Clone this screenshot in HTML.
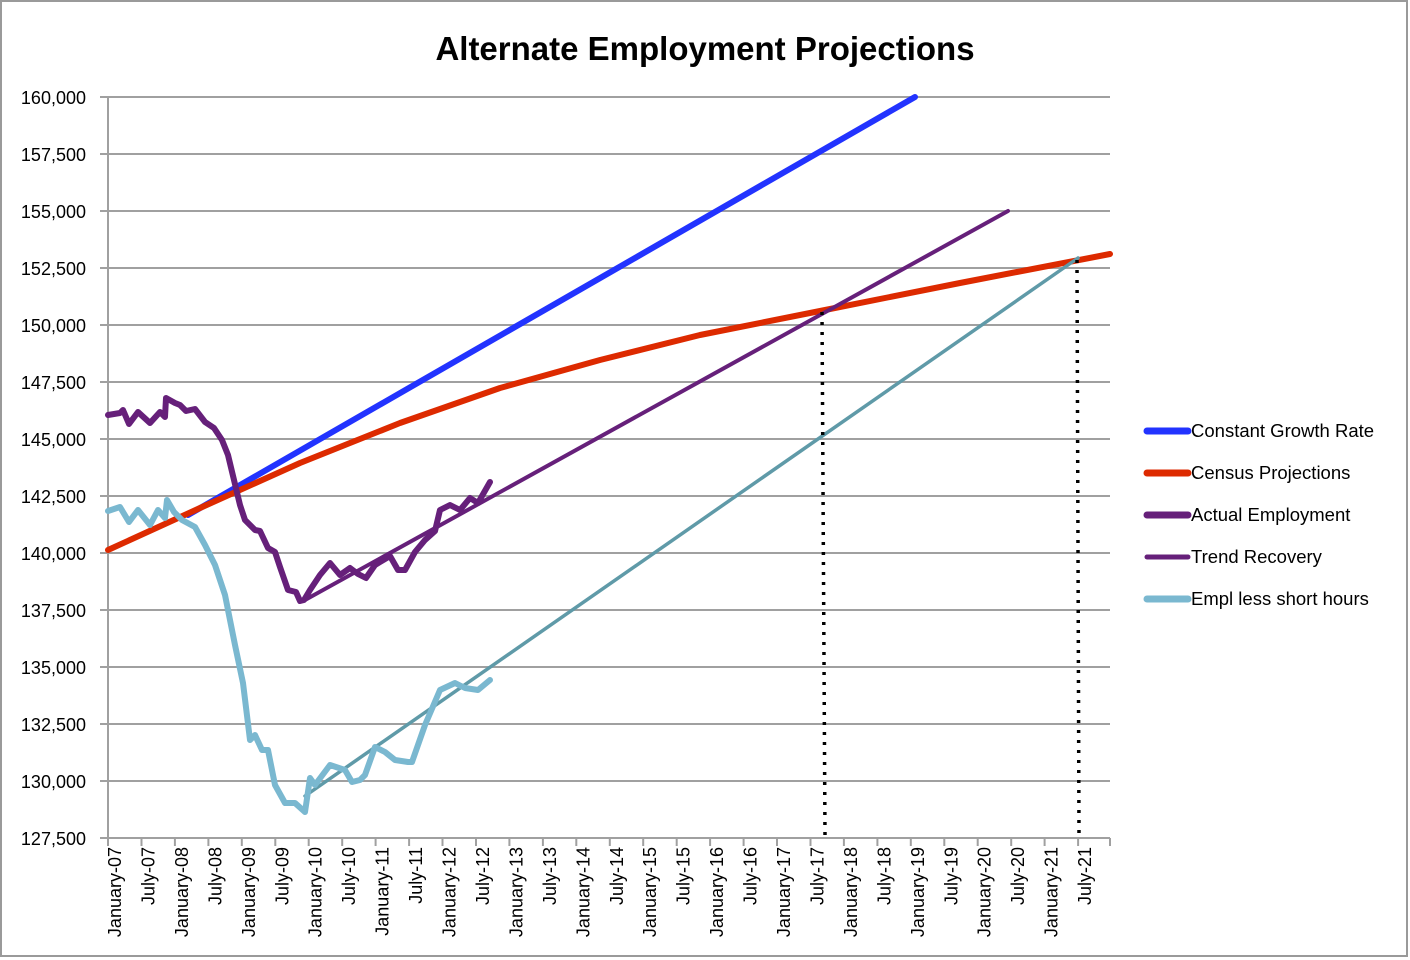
<!DOCTYPE html>
<html><head><meta charset="utf-8"><style>
html,body{margin:0;padding:0;background:#fff;}
svg{display:block;font-family:"Liberation Sans",sans-serif;}
</style></head><body>
<svg width="1410" height="960" viewBox="0 0 1410 960">
<rect x="1" y="1" width="1406" height="955" fill="#fff" stroke="#9a9a9a" stroke-width="2"/>
<text x="705" y="60" text-anchor="middle" font-size="33" font-weight="bold">Alternate Employment Projections</text>
<g stroke="#a0a0a0" stroke-width="2">
<line x1="100" y1="97" x2="1110" y2="97"/><line x1="100" y1="154" x2="1110" y2="154"/>
<line x1="100" y1="211" x2="1110" y2="211"/><line x1="100" y1="268" x2="1110" y2="268"/>
<line x1="100" y1="325" x2="1110" y2="325"/><line x1="100" y1="382" x2="1110" y2="382"/>
<line x1="100" y1="439" x2="1110" y2="439"/><line x1="100" y1="496" x2="1110" y2="496"/>
<line x1="100" y1="553" x2="1110" y2="553"/><line x1="100" y1="610" x2="1110" y2="610"/>
<line x1="100" y1="667" x2="1110" y2="667"/><line x1="100" y1="724" x2="1110" y2="724"/>
<line x1="100" y1="781" x2="1110" y2="781"/><line x1="100" y1="838" x2="1110" y2="838"/>
<line x1="108" y1="97" x2="108" y2="846"/>
</g>
<g stroke="#a0a0a0" stroke-width="2">
<line x1="141.5" y1="838" x2="141.5" y2="846"/><line x1="174.9" y1="838" x2="174.9" y2="846"/><line x1="208.4" y1="838" x2="208.4" y2="846"/><line x1="241.8" y1="838" x2="241.8" y2="846"/><line x1="275.3" y1="838" x2="275.3" y2="846"/><line x1="308.7" y1="838" x2="308.7" y2="846"/><line x1="342.2" y1="838" x2="342.2" y2="846"/><line x1="375.6" y1="838" x2="375.6" y2="846"/><line x1="409.1" y1="838" x2="409.1" y2="846"/><line x1="442.5" y1="838" x2="442.5" y2="846"/><line x1="476" y1="838" x2="476" y2="846"/><line x1="509.4" y1="838" x2="509.4" y2="846"/><line x1="542.9" y1="838" x2="542.9" y2="846"/><line x1="576.3" y1="838" x2="576.3" y2="846"/><line x1="609.8" y1="838" x2="609.8" y2="846"/><line x1="643.2" y1="838" x2="643.2" y2="846"/><line x1="676.7" y1="838" x2="676.7" y2="846"/><line x1="710.1" y1="838" x2="710.1" y2="846"/><line x1="743.6" y1="838" x2="743.6" y2="846"/><line x1="777" y1="838" x2="777" y2="846"/><line x1="810.5" y1="838" x2="810.5" y2="846"/><line x1="843.9" y1="838" x2="843.9" y2="846"/><line x1="877.4" y1="838" x2="877.4" y2="846"/><line x1="910.8" y1="838" x2="910.8" y2="846"/><line x1="944.3" y1="838" x2="944.3" y2="846"/><line x1="977.7" y1="838" x2="977.7" y2="846"/><line x1="1011.2" y1="838" x2="1011.2" y2="846"/><line x1="1044.6" y1="838" x2="1044.6" y2="846"/><line x1="1078.1" y1="838" x2="1078.1" y2="846"/><line x1="1110" y1="838" x2="1110" y2="846"/>
</g>
<g font-size="18" text-anchor="end">
<text x="86" y="104">160,000</text><text x="86" y="161">157,500</text><text x="86" y="218">155,000</text>
<text x="86" y="275">152,500</text><text x="86" y="332">150,000</text><text x="86" y="389">147,500</text>
<text x="86" y="446">145,000</text><text x="86" y="503">142,500</text><text x="86" y="560">140,000</text>
<text x="86" y="617">137,500</text><text x="86" y="674">135,000</text><text x="86" y="731">132,500</text>
<text x="86" y="788">130,000</text><text x="86" y="845">127,500</text>
</g>
<g font-size="18" text-anchor="end">
<text transform="translate(121,847) rotate(-90)">January-07</text>
<text transform="translate(154.5,847) rotate(-90)">July-07</text>
<text transform="translate(187.9,847) rotate(-90)">January-08</text>
<text transform="translate(221.4,847) rotate(-90)">July-08</text>
<text transform="translate(254.8,847) rotate(-90)">January-09</text>
<text transform="translate(288.3,847) rotate(-90)">July-09</text>
<text transform="translate(321.7,847) rotate(-90)">January-10</text>
<text transform="translate(355.2,847) rotate(-90)">July-10</text>
<text transform="translate(388.6,847) rotate(-90)">January-11</text>
<text transform="translate(422.1,847) rotate(-90)">July-11</text>
<text transform="translate(455.5,847) rotate(-90)">January-12</text>
<text transform="translate(489,847) rotate(-90)">July-12</text>
<text transform="translate(522.4,847) rotate(-90)">January-13</text>
<text transform="translate(555.9,847) rotate(-90)">July-13</text>
<text transform="translate(589.3,847) rotate(-90)">January-14</text>
<text transform="translate(622.8,847) rotate(-90)">July-14</text>
<text transform="translate(656.2,847) rotate(-90)">January-15</text>
<text transform="translate(689.7,847) rotate(-90)">July-15</text>
<text transform="translate(723.1,847) rotate(-90)">January-16</text>
<text transform="translate(756.6,847) rotate(-90)">July-16</text>
<text transform="translate(790,847) rotate(-90)">January-17</text>
<text transform="translate(823.5,847) rotate(-90)">July-17</text>
<text transform="translate(856.9,847) rotate(-90)">January-18</text>
<text transform="translate(890.4,847) rotate(-90)">July-18</text>
<text transform="translate(923.8,847) rotate(-90)">January-19</text>
<text transform="translate(957.3,847) rotate(-90)">July-19</text>
<text transform="translate(990.7,847) rotate(-90)">January-20</text>
<text transform="translate(1024.2,847) rotate(-90)">July-20</text>
<text transform="translate(1057.6,847) rotate(-90)">January-21</text>
<text transform="translate(1091.1,847) rotate(-90)">July-21</text>
</g>
<g fill="none" stroke-linecap="round" stroke-linejoin="round">
<polyline stroke="#2233ff" stroke-width="6" points="188,515 915,97"/>
<polyline stroke="#dd2a00" stroke-width="6" points="108,550 200,508 300,463 400,423 500,388 600,360 700,335 820,311 960,283 1110,254"/>
<polyline stroke="#66207a" stroke-width="4" points="305,600 1008,211"/>
<polyline stroke="#5f9aa8" stroke-width="3.5" points="305,796 1078,258"/>
<polyline stroke="#7ab8d0" stroke-width="6" points="108,511 120,507 123,512 129,522 138,510 150,525 158,510 165,518 167,500 174,512 182,520 195,527 205,545 215,565 225,595 235,645 243,683 250,740 255,735 262,750 268,750 275,785 285,803 295,803 305,812 310,778 315,785 330,765 345,770 352,782 360,780 365,775 375,747 385,752 395,760 408,762 412,762 425,725 440,690 455,683 465,688 478,690 490,680"/>
<polyline stroke="#66207a" stroke-width="6" points="108,415 120,413 123,410 129,424 138,412 150,423 160,412 165,417 166,398 175,403 180,405 186,411 195,409 205,422 214,428 222,440 228,455 234,480 240,505 245,520 255,530 260,531 268,548 275,552 280,567 288,590 296,592 300,601 304,600 310,590 320,575 330,563 340,575 350,568 358,574 366,578 375,565 390,556 398,570 405,570 415,552 425,540 435,531 440,510 450,505 460,510 470,498 478,503 490,482"/>
</g>
<g stroke="#000" stroke-width="3.5" stroke-dasharray="3,7">
<line x1="822" y1="312" x2="825" y2="836"/>
<line x1="1077" y1="260" x2="1079" y2="836"/>
</g>
<g stroke-width="7" stroke-linecap="round">
<line x1="1147" y1="431" x2="1188" y2="431" stroke="#2233ff"/>
<line x1="1147" y1="473" x2="1188" y2="473" stroke="#dd2a00"/>
<line x1="1147" y1="515" x2="1188" y2="515" stroke="#66207a"/>
<line x1="1147" y1="557" x2="1188" y2="557" stroke="#66207a" stroke-width="5"/>
<line x1="1147" y1="599" x2="1188" y2="599" stroke="#7ab8d0"/>
</g>
<g font-size="18.5">
<text x="1191" y="437">Constant Growth Rate</text>
<text x="1191" y="479">Census Projections</text>
<text x="1191" y="521">Actual Employment</text>
<text x="1191" y="563">Trend Recovery</text>
<text x="1191" y="605">Empl less short hours</text>
</g>
</svg>
</body></html>
